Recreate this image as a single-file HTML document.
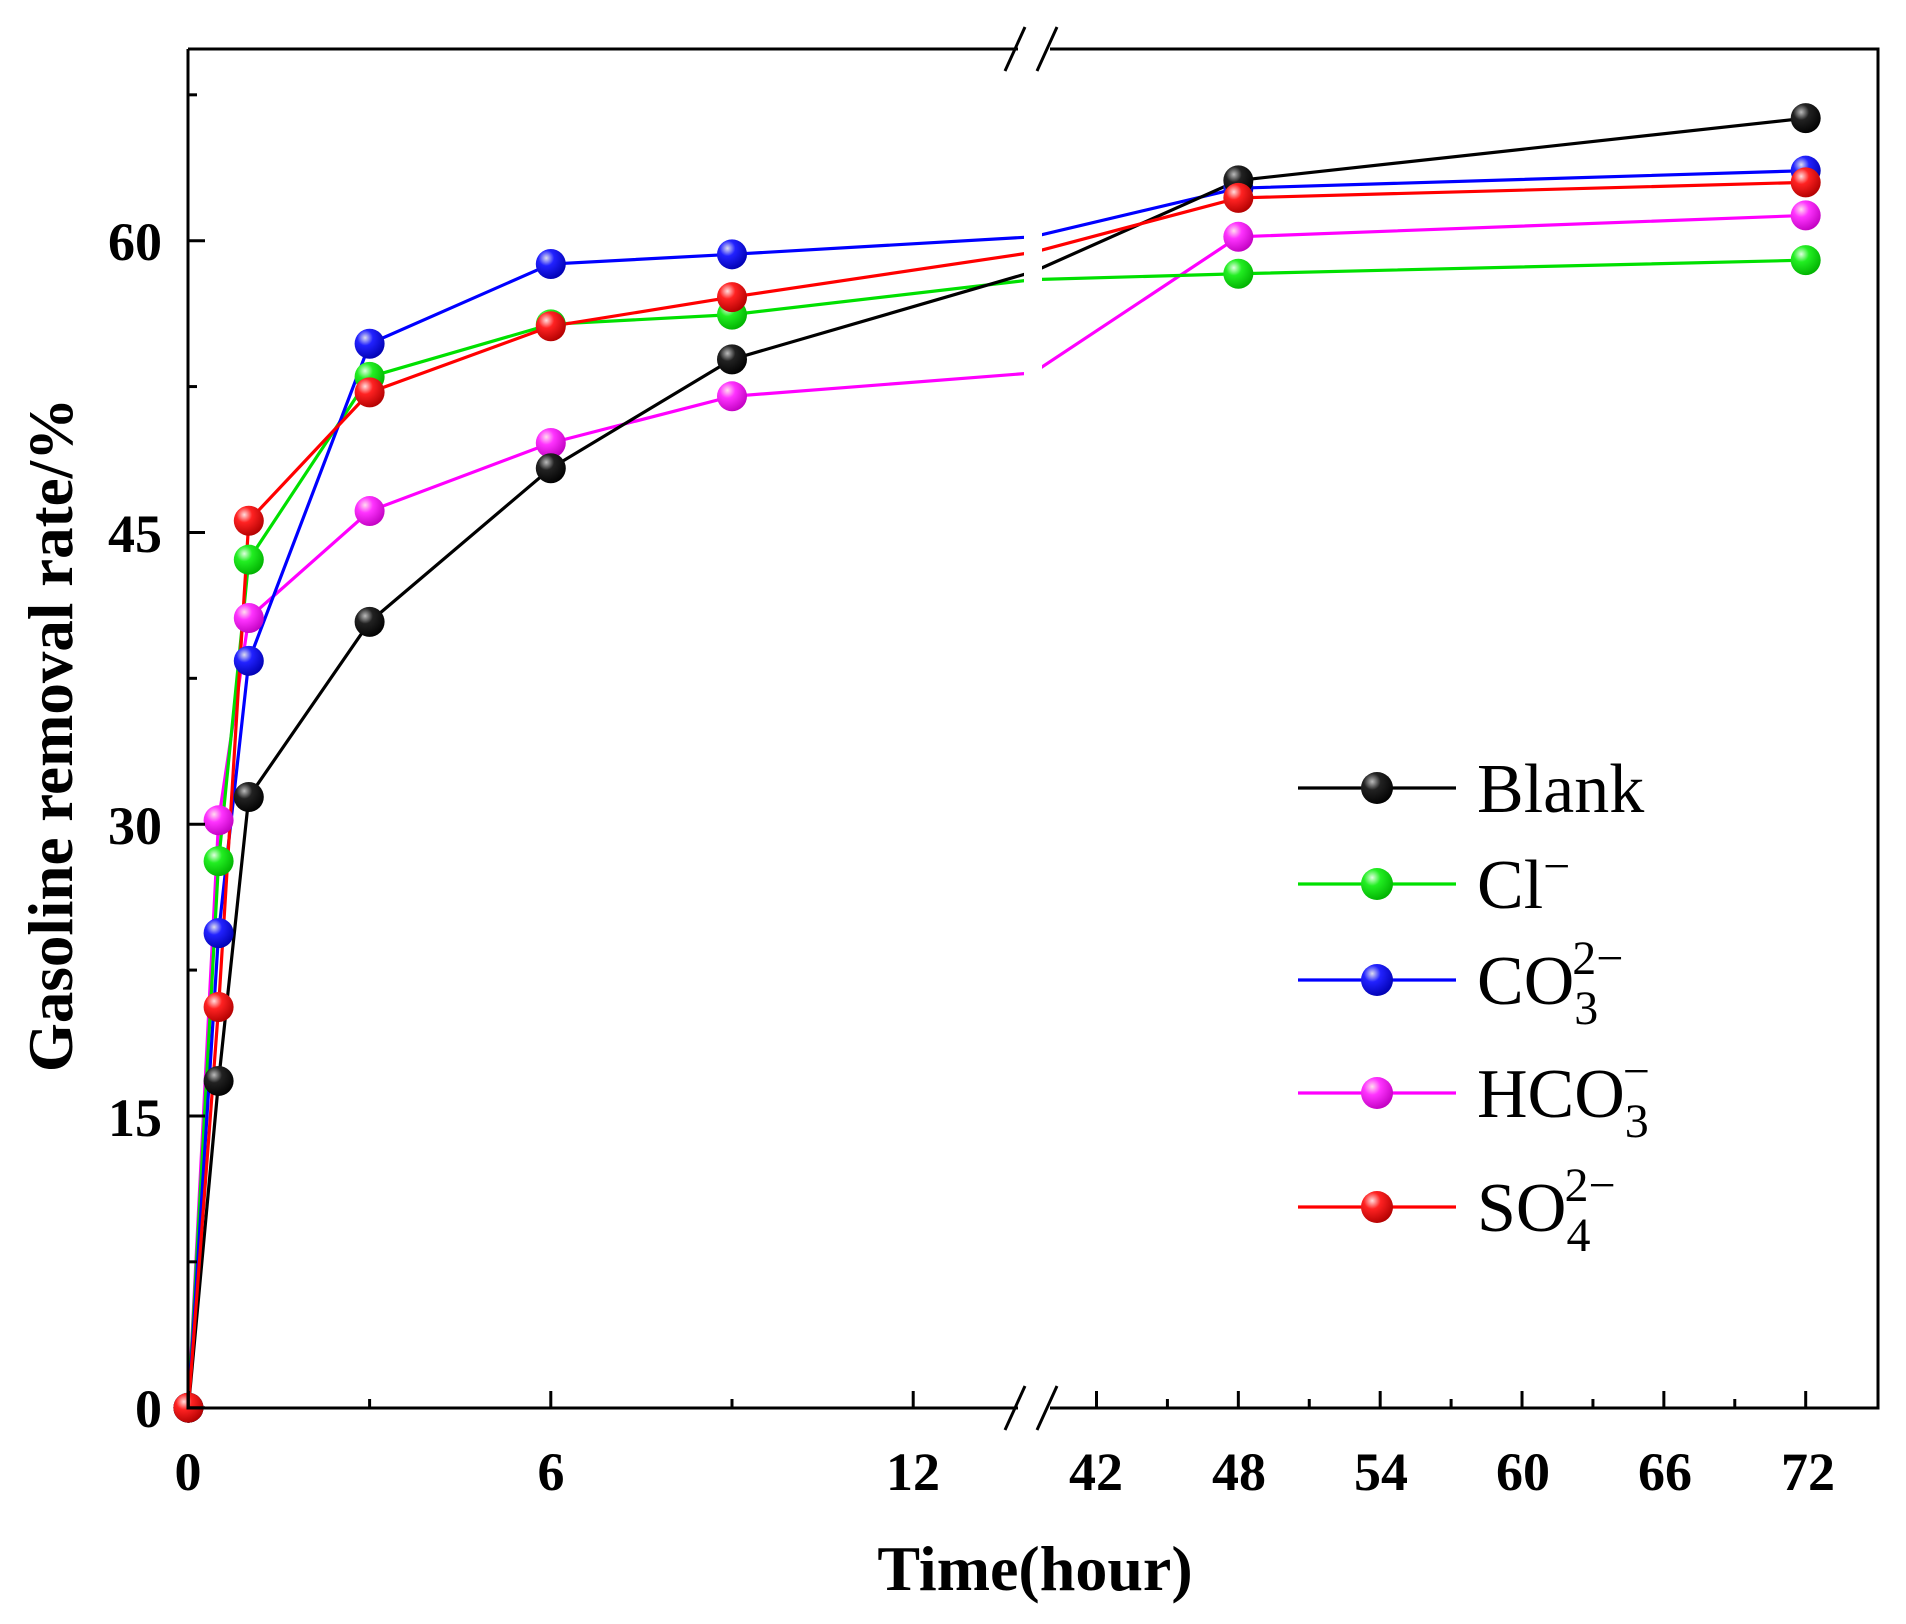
<!DOCTYPE html>
<html><head><meta charset="utf-8"><style>
html,body{margin:0;padding:0;background:#fff;}
svg{display:block;}
text{font-family:"Liberation Serif",serif;}
</style></head><body>
<svg id="s" width="1906" height="1624" viewBox="0 0 1906 1624" xmlns="http://www.w3.org/2000/svg">
<defs>
<radialGradient id="gk" cx="0.35" cy="0.3" r="0.75"><stop offset="0" stop-color="#bbb"/><stop offset="0.35" stop-color="#222"/><stop offset="1" stop-color="#000"/></radialGradient>
<radialGradient id="gg" cx="0.35" cy="0.3" r="0.75"><stop offset="0" stop-color="#dfffdf"/><stop offset="0.35" stop-color="#22ee22"/><stop offset="1" stop-color="#00b000"/></radialGradient>
<radialGradient id="gb" cx="0.35" cy="0.3" r="0.75"><stop offset="0" stop-color="#dde"/><stop offset="0.35" stop-color="#2222ff"/><stop offset="1" stop-color="#0000b0"/></radialGradient>
<radialGradient id="gm" cx="0.35" cy="0.3" r="0.75"><stop offset="0" stop-color="#fde"/><stop offset="0.35" stop-color="#ff33ff"/><stop offset="1" stop-color="#c000c0"/></radialGradient>
<radialGradient id="gr" cx="0.35" cy="0.3" r="0.75"><stop offset="0" stop-color="#fdd"/><stop offset="0.35" stop-color="#ff2222"/><stop offset="1" stop-color="#b00000"/></radialGradient>
</defs>
<g id="plot"></g>
<g font-weight="bold" font-size="54" text-anchor="middle">
<text x="188" y="1490">0</text><text x="551" y="1490">6</text><text x="913" y="1490">12</text>
<text x="1096" y="1490">42</text><text x="1239" y="1490">48</text><text x="1381" y="1490">54</text>
<text x="1523" y="1490">60</text><text x="1665" y="1490">66</text><text x="1808" y="1490">72</text>
</g>
<g font-weight="bold" font-size="54" text-anchor="end">
<text x="162" y="1427">0</text><text x="162" y="1136">15</text><text x="162" y="844">30</text>
<text x="162" y="552">45</text><text x="162" y="260">60</text>
</g>
<text x="1035" y="1590" font-weight="bold" font-size="64" text-anchor="middle">Time(hour)</text>
<text transform="translate(72,735) rotate(-90)" font-weight="bold" font-size="63" text-anchor="middle">Gasoline removal rate/%</text>
<g font-size="70">
<text x="1477" y="812">Blank</text>
<text x="1477" y="908">Cl<tspan dy="-26" font-size="48">−</tspan></text>
<text x="1477" y="1004">CO<tspan dy="20" font-size="48">3</tspan><tspan dx="-26" dy="-50" font-size="48">2−</tspan></text>
<text x="1477" y="1117">HCO<tspan dy="20" font-size="48">3</tspan><tspan dx="-26" dy="-50" font-size="48">−</tspan></text>
<text x="1477" y="1231">SO<tspan dy="20" font-size="48">4</tspan><tspan dx="-26" dy="-50" font-size="48">2−</tspan></text>
</g>
</svg>
<script>
var NS="http://www.w3.org/2000/svg",g=document.getElementById("plot");
function el(n,a){var e=document.createElementNS(NS,n);for(var k in a)e.setAttribute(k,a[k]);g.appendChild(e);return e;}
function X(t){return t<=20?188.4+t*60.4:1096.5+(t-42)*23.64;}
function Y(v){return 1407.7-v*19.45;}
var T=[0,0.5,1,3,6,9,48,72];
var S=[
["#ff00ff","gm",[0,30.2,40.6,46.1,49.6,52.0,60.2,61.3],53.2],
["#00e000","gg",[0,28.1,43.6,53.0,55.7,56.2,58.3,59.0],58.0],
["#0000ff","gb",[0,24.4,38.4,54.7,58.8,59.3,62.7,63.6],60.2],
["#000000","gk",[0,16.8,31.4,40.4,48.3,53.9,63.1,66.3],58.4],
["#ff0000","gr",[0,20.6,45.6,52.2,55.6,57.1,62.2,63.0],59.4]];
var BX=1033;
S.forEach(function(s){var pts=T.map(function(t,i){return [X(t),Y(s[2][i])];});
pts.splice(6,0,[BX,Y(s[3])]);
el("polyline",{points:pts.map(function(p){return p.join(",");}).join(" "),fill:"none",stroke:s[0],"stroke-width":3.2});});
el("rect",{x:1024,y:52,width:18,height:1352,fill:"#fff"});
S.forEach(function(s){T.forEach(function(t,i){el("circle",{cx:X(t),cy:Y(s[2][i]),r:15,fill:"url(#"+s[1]+")"});});});
var ax={stroke:"#000","stroke-width":3,fill:"none"};
el("path",Object.assign({d:"M188,49 L188,1408 L1018,1408 M1050,1408 L1878,1408 L1878,49 L1050,49 M1018,49 L188,49"},ax));
[1408,49].forEach(function(y){
el("path",{d:"M1005,"+(y+22)+" L1025,"+(y-22)+" M1037,"+(y+22)+" L1057,"+(y-22),stroke:"#000","stroke-width":3,fill:"none"});});
for(var v=0;v<=67.5;v+=7.5){var L=(v%15==0)?17:9;el("line",{x1:188,x2:188+L,y1:Y(v),y2:Y(v),stroke:"#000","stroke-width":3});}
[0,3,6,9,12].forEach(function(t){var L=(t%6==0)?17:9;el("line",{x1:X(t),x2:X(t),y1:1408,y2:1408-L,stroke:"#000","stroke-width":3});});
for(var t=42;t<=72;t+=3){var L=(t%6==0)?17:9;el("line",{x1:X(t),x2:X(t),y1:1408,y2:1408-L,stroke:"#000","stroke-width":3});}
var LY=[788,884,980,1093,1207],LS=[S[3],S[1],S[2],S[0],S[4]];
LY.forEach(function(y,i){el("line",{x1:1298,x2:1456,y1:y,y2:y,stroke:LS[i][0],"stroke-width":3.2});
el("circle",{cx:1377,cy:y,r:16,fill:"url(#"+LS[i][1]+")"});});
</script>
</body></html>
